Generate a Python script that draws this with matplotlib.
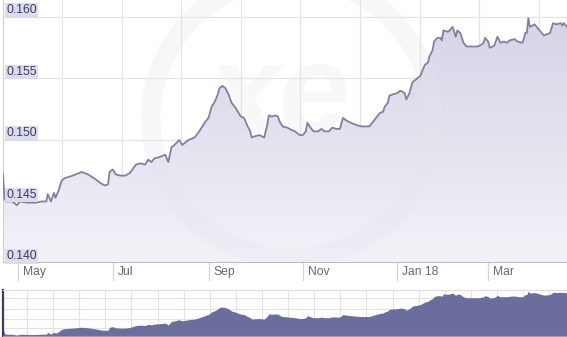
import numpy as np
import pandas as pd
import matplotlib
matplotlib.use("Agg")
import matplotlib.pyplot as plt
import matplotlib.dates as mdates
import matplotlib.transforms as mtrans
from matplotlib.patches import Ellipse

# daily rate samples
dates = [
    "2017-04-21", "2017-04-22", "2017-04-23", "2017-04-27", "2017-04-30", "2017-05-02",
    "2017-05-07", "2017-05-12", "2017-05-16", "2017-05-19", "2017-05-20", "2017-05-22",
    "2017-05-24", "2017-05-25", "2017-05-27", "2017-05-29", "2017-05-31", "2017-06-05",
    "2017-06-09", "2017-06-11", "2017-06-13", "2017-06-15", "2017-06-20", "2017-06-23",
    "2017-06-26", "2017-06-28", "2017-06-29", "2017-07-01", "2017-07-03", "2017-07-06",
    "2017-07-09", "2017-07-12", "2017-07-16", "2017-07-19", "2017-07-22", "2017-07-24",
    "2017-07-26", "2017-07-28", "2017-07-31", "2017-08-04", "2017-08-06", "2017-08-08",
    "2017-08-10", "2017-08-13", "2017-08-15", "2017-08-19", "2017-08-23", "2017-08-26",
    "2017-08-30", "2017-09-01", "2017-09-03", "2017-09-05", "2017-09-07", "2017-09-08",
    "2017-09-10", "2017-09-12", "2017-09-14", "2017-09-16", "2017-09-18", "2017-09-20",
    "2017-09-22", "2017-09-24", "2017-09-26", "2017-09-28", "2017-09-29", "2017-10-01",
    "2017-10-04", "2017-10-07", "2017-10-09", "2017-10-10", "2017-10-12", "2017-10-14",
    "2017-10-16", "2017-10-17", "2017-10-19", "2017-10-22", "2017-10-25", "2017-10-27",
    "2017-10-30", "2017-11-01", "2017-11-03", "2017-11-04", "2017-11-06", "2017-11-08",
    "2017-11-11", "2017-11-13", "2017-11-15", "2017-11-18", "2017-11-20", "2017-11-23",
    "2017-11-25", "2017-11-27", "2017-11-29", "2017-12-02", "2017-12-06", "2017-12-09",
    "2017-12-14", "2017-12-16", "2017-12-19", "2017-12-21", "2017-12-23", "2017-12-24",
    "2017-12-26", "2017-12-27", "2017-12-29", "2018-01-01", "2018-01-03", "2018-01-05",
    "2018-01-06", "2018-01-07", "2018-01-09", "2018-01-11", "2018-01-14", "2018-01-16",
    "2018-01-17", "2018-01-19", "2018-01-21", "2018-01-22", "2018-01-24", "2018-01-25",
    "2018-01-27", "2018-01-29", "2018-01-30", "2018-01-31", "2018-02-03", "2018-02-04",
    "2018-02-06", "2018-02-08", "2018-02-09", "2018-02-11", "2018-02-13", "2018-02-15",
    "2018-02-18", "2018-02-22", "2018-02-24", "2018-02-26", "2018-02-27", "2018-03-01",
    "2018-03-02", "2018-03-04", "2018-03-05", "2018-03-07", "2018-03-09", "2018-03-11",
    "2018-03-13", "2018-03-15", "2018-03-18", "2018-03-20", "2018-03-23", "2018-03-24",
    "2018-03-25", "2018-03-26", "2018-03-27", "2018-03-28", "2018-03-31", "2018-04-02",
    "2018-04-04", "2018-04-06", "2018-04-10", "2018-04-11", "2018-04-12", "2018-04-14",
    "2018-04-17", "2018-04-18", "2018-04-19", "2018-04-21",
]
rates = [
    0.1472, 0.1452, 0.1450, 0.1450, 0.1447, 0.1450,
    0.1449, 0.1449, 0.1450, 0.1450, 0.1456, 0.1450,
    0.1457, 0.1453, 0.1459, 0.1467, 0.1469, 0.1471,
    0.1473, 0.1474, 0.1473, 0.1472, 0.1468, 0.1465,
    0.1463, 0.1464, 0.1474, 0.1476, 0.1472, 0.1471,
    0.1471, 0.1473, 0.1480, 0.1481, 0.1480, 0.1484,
    0.1482, 0.1485, 0.1486, 0.1488, 0.1482, 0.1494,
    0.1496, 0.1500, 0.1496, 0.1500, 0.1502, 0.1507,
    0.1515, 0.1518, 0.1527, 0.1531, 0.1537, 0.1542,
    0.1544, 0.1542, 0.1537, 0.1530, 0.1527, 0.1523,
    0.1519, 0.1518, 0.1512, 0.1507, 0.1502, 0.1503,
    0.1504, 0.1502, 0.1512, 0.1520, 0.1519, 0.1520,
    0.1519, 0.1515, 0.1511, 0.1510, 0.1508, 0.1507,
    0.1504, 0.1504, 0.1507, 0.1514, 0.1510, 0.1507,
    0.1507, 0.1509, 0.1507, 0.1507, 0.1510, 0.1509,
    0.1509, 0.1518, 0.1516, 0.1514, 0.1512, 0.1511,
    0.1511, 0.1514, 0.1519, 0.1522, 0.1523, 0.1527,
    0.1530, 0.1536, 0.1537, 0.1538, 0.1540, 0.1539,
    0.1538, 0.1533, 0.1538, 0.1547, 0.1550, 0.1552,
    0.1555, 0.1561, 0.1563, 0.1568, 0.1573, 0.1580,
    0.1583, 0.1583, 0.1581, 0.1589, 0.1588, 0.1589,
    0.1592, 0.1584, 0.1589, 0.1587, 0.1579, 0.1576,
    0.1576, 0.1576, 0.1577, 0.1579, 0.1583, 0.1580,
    0.1575, 0.1576, 0.1577, 0.1584, 0.1579, 0.1580,
    0.1579, 0.1581, 0.1582, 0.1580, 0.1579, 0.1582,
    0.1587, 0.1587, 0.1599, 0.1592, 0.1594, 0.1591,
    0.1588, 0.1585, 0.1587, 0.1591, 0.1595, 0.1594,
    0.1595, 0.1593, 0.1595, 0.1592,
]

y_ticks = [0.140, 0.145, 0.150, 0.155, 0.160]
month_ticks = ["2017-05-01", "2017-07-01", "2017-09-01", "2017-11-01", "2018-01-01", "2018-03-01"]
month_labels = ["May", "Jul", "Sep", "Nov", "Jan 18", "Mar"]

plt.rcParams['font.family'] = ['Liberation Sans', 'DejaVu Sans']

x = mdates.date2num(pd.to_datetime(dates))
x0, x1 = mdates.date2num(pd.to_datetime(["2017-04-21", "2018-04-21"]))
y0, y1 = 0.14008, 0.16138

W, H = 567, 337
fig = plt.figure(figsize=(W / 100, H / 100), dpi=100)
ax = fig.add_axes([3 / W, 75 / H, 564 / W, 262 / H])
nav = fig.add_axes([3 / W, 1 / H, 564 / W, 46 / H])

# --- main chart ---
ax.set_xlim(x0, x1)
ax.set_ylim(y0, y1)
for v in y_ticks:
    ax.axhline(v, color='#e4e4e4', lw=0.9, zorder=0)
for k in range(9):
    ax.axvline(x0 + (0.1046 + 0.1057 * k) * (x1 - x0), color='#e4e4e4', lw=0.9, zorder=0)

# area with vertical gradient, clipped to the filled region
poly = ax.fill_between(x, rates, y0, color='none', lw=0)
top = np.array([0.83, 0.83, 0.90])
bot = np.array([0.95, 0.95, 0.975])
t = np.linspace(0, 1, 256)[:, None]
grad = (top * (1 - t) + bot * t)[:, None, :]
img = ax.imshow(grad, extent=[x0, x1, y0, 0.1600], aspect='auto', origin='upper', zorder=1)
img.set_clip_path(poly.get_paths()[0], ax.transData)

# faint watermark
ax.add_patch(Ellipse((0.512, 0.55), 0.50, 1.07, transform=ax.transAxes, fill=False,
                     ec='#e6e6ee', lw=14, alpha=0.3, zorder=1.5))
ax.text(0.49, 0.62, "xe", transform=ax.transAxes, fontsize=92, fontweight='bold',
        fontstyle='italic', color='#e4e4ee', alpha=0.25, ha='center', va='center', zorder=1.5)

ax.plot(x, rates, color='#80819e', lw=1.3, zorder=3)

ylab = mtrans.blended_transform_factory(ax.transAxes, ax.transData)
for v in y_ticks:
    ax.text(0.006, v + 0.00004, f"{v:.3f}", transform=ylab, ha='left', va='bottom',
            fontsize=8.7, color='#3c3c5c', zorder=4,
            bbox=dict(boxstyle='square,pad=0.12', fc='#dcdcee', ec='none'))

ax.set_xticks([])
ax.set_yticks([])
for s in ['top', 'right']:
    ax.spines[s].set_visible(False)
ax.spines['left'].set_color('#d0d0d0')
ax.spines['bottom'].set_color('#bdbdbd')

xlab = mtrans.blended_transform_factory(ax.transData, ax.transAxes)
xlab_off = mtrans.offset_copy(xlab, fig=fig, x=5, y=-10, units='dots')
for d, lab in zip(mdates.date2num(pd.to_datetime(month_ticks)), month_labels):
    ax.plot([d, d], [0, -18 / 262], transform=xlab, color='#d6d6d6', lw=0.9, clip_on=False)
    ax.text(d, 0, lab, transform=xlab_off, ha='left', va='center', fontsize=8.7, color='#666677')

# --- navigator ---
nav.set_xlim(x0, x1)
nav.set_ylim(0.14437, 0.16027)
for f in [0.174, 0.37, 0.587, 0.826]:
    nav.axhline(nav.get_ylim()[0] + f * (nav.get_ylim()[1] - nav.get_ylim()[0]),
                color='#e2e2e2', lw=0.8, zorder=0)
for k in range(22):
    nav.axvline(x0 + (0.0426 + 0.0463 * k) * (x1 - x0), color='#e2e2e2', lw=0.8, zorder=0)
nav.fill_between(x, rates, 0.14437, color='#6b6e9c', lw=0, zorder=2)
nav.set_xticks([])
nav.set_yticks([])
nav.spines['right'].set_visible(False)
nav.spines['top'].set_color('#dcdcdc')
nav.spines['bottom'].set_color('#9a9cc0')
nav.spines['left'].set_color('#3a3c66')
nav.spines['left'].set_linewidth(1.6)

fig.savefig("out.png", dpi=100, facecolor='white')
